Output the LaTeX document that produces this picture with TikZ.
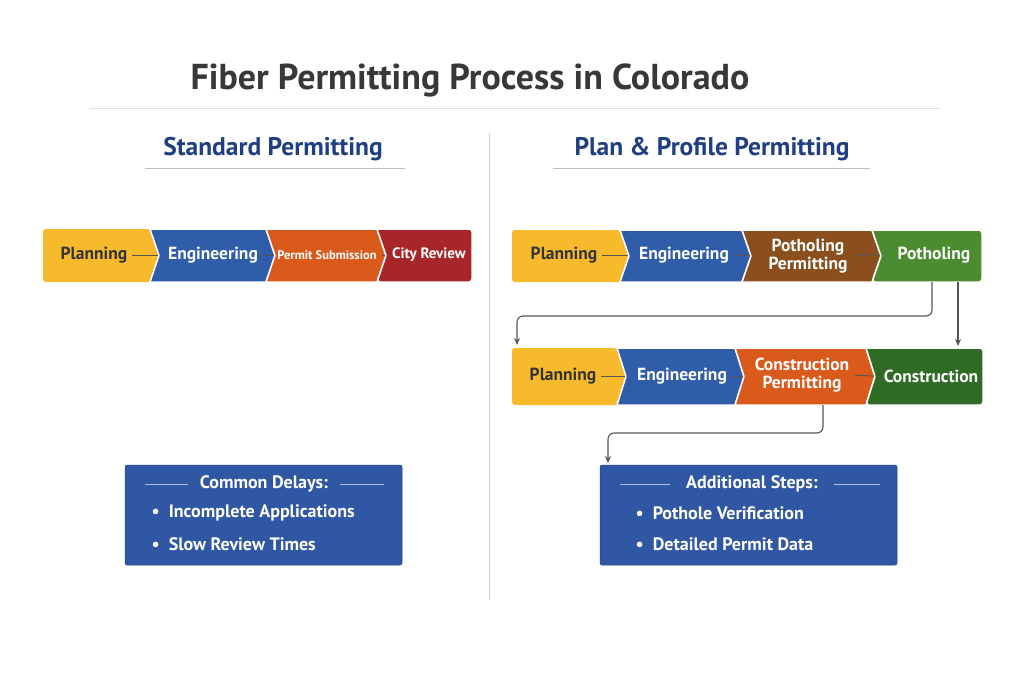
\documentclass[tikz,border=0pt]{standalone}
\usepackage{fontspec}
\setmainfont{PT Sans}
\usetikzlibrary{arrows.meta}
\definecolor{cyel}{HTML}{F6BA2C}
\definecolor{cblue}{HTML}{2F5DAA}
\definecolor{corg}{HTML}{DA5A1C}
\definecolor{cred}{HTML}{A8252A}
\definecolor{cbrown}{HTML}{8A4F1C}
\definecolor{cgreen}{HTML}{4C8C30}
\definecolor{cdgreen}{HTML}{2F6B24}
\definecolor{cnavy}{HTML}{1F3F80}
\definecolor{cbox}{HTML}{2F57A3}
\definecolor{cgray}{HTML}{5A5550}
\tikzset{
 seg/.style={draw=white,line width=1.5pt,line join=round},
 wtxt/.style={text=white,font=\bfseries\fontsize{17.5}{18}\selectfont,align=center,inner sep=1pt},
 dtxt/.style={text=black!80,font=\bfseries\fontsize{17.5}{18}\selectfont,align=center,inner sep=1pt},
 btxt/.style={text=white,font=\bfseries\fontsize{18}{19}\selectfont},
 link/.style={draw=cgray,line width=0.9pt,shorten <=4pt},
 flow/.style={draw=cgray,line width=1.1pt,-{Stealth[length=7pt,width=6pt]},rounded corners=6pt},
 infobox/.style={fill=cbox,draw=cbox!80!black,line width=0.5pt,rounded corners=2pt},
}
\newcommand{\chevF}[5]{\fill[#5,rounded corners=3pt] (#1,#3) -- (#2,#3) [sharp corners]-- (#2+9,{(#3+#4)/2}) -- (#2,#4) [rounded corners=3pt]-- (#1,#4) -- cycle;}
\newcommand{\chevM}[5]{\filldraw[#5,seg] (#1,#3) -- (#2,#3) -- (#2+9,{(#3+#4)/2}) -- (#2,#4) -- (#1,#4) -- (#1+9,{(#3+#4)/2}) -- cycle;}
\newcommand{\chevL}[5]{\filldraw[#5,seg,rounded corners=3pt] (#1,#3) -- (#2,#3) -- (#2,#4) -- (#1,#4) [sharp corners]-- (#1+9,{(#3+#4)/2}) -- cycle;}
\begin{document}
\begin{tikzpicture}[x=1pt,y=-1pt]
\useasboundingbox[fill=white] (0,0) rectangle (1024,683);
\node[text=black!78,font=\bfseries\fontsize{36}{38}\selectfont] (title) at (470,80) {Fiber Permitting Process in Colorado};
\draw[black!12,line width=1pt] (90,108) -- (940,108);
\draw[black!18,line width=0.8pt] (489,133) -- (489,600);
\node[text=cnavy,font=\bfseries\fontsize{25.5}{28}\selectfont] (h1) at (273,149) {Standard Permitting};
\draw[black!25,line width=0.7pt] (145,168) -- (405,168);
\node[text=cnavy,font=\bfseries\fontsize{25.5}{28}\selectfont] (h2) at (712,149) {Plan \& Profile Permitting};
\draw[black!25,line width=0.7pt] (553,168) -- (870,168);
% standard row
\chevF{43}{150}{229}{282}{cyel}
\chevM{150}{266}{229}{282}{cblue}
\chevM{266}{377}{229}{282}{corg}
\chevL{377}{472}{229}{282}{cred}
\node[dtxt] (s1) at (94,255) {Planning};
\node[wtxt] (s2) at (213,255) {Engineering};
\node[wtxt,font=\bfseries\fontsize{12.5}{13}\selectfont] (s3) at (327,255) {Permit Submission};
\node[wtxt,font=\bfseries\fontsize{15}{15}\selectfont] (s4) at (429,255) {City Review};
\draw[link] (s1.east) -- (158,255);
\draw[link] (s2.east) -- (274,255);
\draw[link] (s3.east) -- (385,255);
% plan row 1
\chevF{512}{620}{230}{282}{cyel}
\chevM{620}{742}{230}{282}{cblue}
\chevM{742}{872}{230}{282}{cbrown}
\chevL{872}{982}{230}{282}{cgreen}
\node[dtxt] (a1) at (564,255) {Planning};
\node[wtxt] (a2) at (684,255) {Engineering};
\node[wtxt] (a3) at (808,256) {Potholing\\Permitting};
\node[wtxt] (a4) at (934,255) {Potholing};
\draw[link] (a1.east) -- (628,255);
\draw[link] (a2.east) -- (750,255);
\draw[link] (a3.east) -- (880,255);
% plan row 2
\chevF{512}{617}{348}{405}{cyel}
\chevM{617}{735}{348}{405}{cblue}
\chevM{735}{866}{348}{405}{corg}
\chevL{866}{983}{348}{405}{cdgreen}
\node[dtxt] (b1) at (563,376) {Planning};
\node[wtxt] (b2) at (682,376) {Engineering};
\node[wtxt] (b3) at (802,375) {Construction\\Permitting};
\node[wtxt] (b4) at (931,376) {Construction};
\draw[link] (b1.east) -- (625,376);
\draw[link] (b2.east) -- (743,376);
\draw[link] (b3.east) -- (874,376);
% flow arrows
\coordinate (p1) at (932,282);
\coordinate (q1) at (517,345);
\draw[flow] (p1) -- (932,316) -- (517,316) -- (q1);
\coordinate (p2) at (958,282);
\coordinate (q2) at (958,346);
\draw[flow] (p2) -- (q2);
\coordinate (p3) at (823,405);
\coordinate (q3) at (608,463);
\draw[flow] (p3) -- (823,433) -- (608,433) -- (q3);
% info boxes
\draw[infobox] (125,465) rectangle (402,565);
\node[btxt] (c0) at (264,484) {Common Delays:};
\draw[white!60!cbox,line width=0.6pt] (145,484) -- (188,484) (340,484) -- (384,484);
\node[btxt,anchor=west] (c1) at (148,513) {\textbullet\ \ Incomplete Applications};
\node[btxt,anchor=west] (c2) at (148,544) {\textbullet\ \ Slow Review Times};
\draw[infobox] (600,465) rectangle (897,565);
\node[btxt] (d0) at (752,484) {Additional Steps:};
\draw[white!60!cbox,line width=0.6pt] (620,484) -- (670,484) (834,484) -- (880,484);
\node[btxt,anchor=west] (d1) at (632,513) {\textbullet\ \ Pothole Verification};
\node[btxt,anchor=west] (d2) at (632,544) {\textbullet\ \ Detailed Permit Data};
\end{tikzpicture}
\end{document}
